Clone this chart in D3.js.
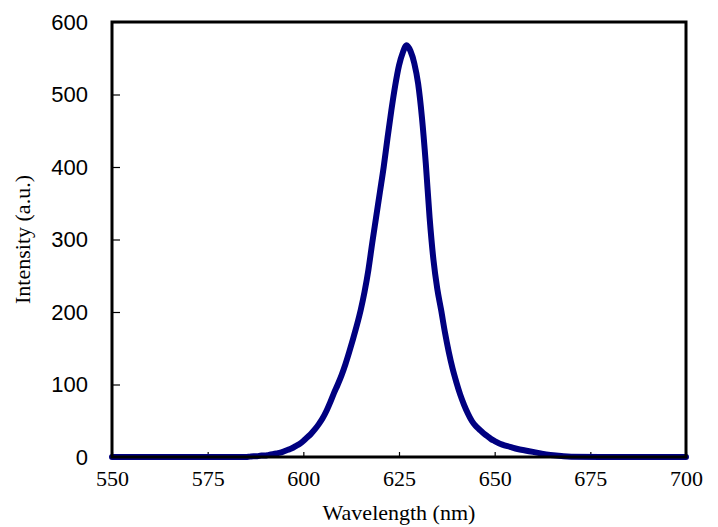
<!DOCTYPE html>
<html><head><meta charset="utf-8">
<script src="https://cdn.jsdelivr.net/npm/d3@7"></script>
<style>html,body{margin:0;padding:0;background:#fff;}</style>
</head><body>
<svg id="chart" width="718" height="527"></svg>
<script>
const wavelengths = [550,560,570,580,585,586,587,588,589,590,591,592,593,594,595,596,597,598,599,600,601,602,603,604,605,606,607,608,609,610,611,612,613,614,615,616,617,618,619,620,621,622,623,624,625,626,627,628,629,630,631,632,633,634,635,636,637,638,639,640,641,642,643,644,645,646,647,648,649,650,652,654,656,658,660,662,664,666,668,670,680,690,700];
const intensity = [0,0,0,0,0,0.5,1,1,2,2,3,4,5,6,8,10,12,15,18,22,27,32,38,45,53,63,75,88,100,113,128,145,163,182,203,228,258,295,330,365,400,440,478,512,540,558,568,560,543,515,468,405,330,272,232,203,172,145,122,103,86,72,60,50,43,38,33,29,25,22,17,14,11,9,7,5,3,2,1,0.5,0,0,0];
const xTicks = [550,575,600,625,650,675,700];
const yTicks = [0,100,200,300,400,500,600];
const xTitle = "Wavelength (nm)";
const yTitle = "Intensity (a.u.)";

const svg = d3.select("#chart");
const m = {left:112, right:32, top:22, bottom:70};
const W = 718, H = 527;
const x = d3.scaleLinear().domain([550,700]).range([m.left, W - m.right]);
const y = d3.scaleLinear().domain([0,600]).range([H - m.bottom, m.top]);

// ticks inward
const gx = svg.append("g").attr("transform", `translate(0,${y(0)})`)
  .call(d3.axisBottom(x).tickValues(xTicks).tickSize(-5).tickPadding(13).tickFormat(d3.format("d")));
gx.select(".domain").remove();
gx.selectAll("line").attr("stroke","#000").attr("stroke-width",1.2);
gx.selectAll("text").attr("font-family","'Liberation Serif', serif").attr("font-size","22px").attr("fill","#000");

const gy = svg.append("g").attr("transform", `translate(${x(550)},0)`)
  .call(d3.axisLeft(y).tickValues(yTicks).tickSize(-8).tickPadding(24).tickFormat(d3.format("d")));
gy.select(".domain").remove();
gy.selectAll("line").attr("stroke","#000").attr("stroke-width",1.2);
gy.selectAll("text").attr("font-family","'Liberation Sans', Arial, sans-serif").attr("font-size","22px").attr("fill","#000");

// curve
const line = d3.line().x((d,i)=>x(wavelengths[i])).y((d,i)=>y(intensity[i])).curve(d3.curveMonotoneX);
svg.append("path").datum(intensity).attr("d", line)
  .attr("fill","none").attr("stroke","#000080").attr("stroke-width",6)
  .attr("stroke-linejoin","round").attr("stroke-linecap","round");

// frame
svg.append("rect").attr("x", x(550)).attr("y", y(600))
  .attr("width", x(700)-x(550)).attr("height", y(0)-y(600))
  .attr("fill","none").attr("stroke","#000").attr("stroke-width",3);

svg.append("text").attr("x", (x(550)+x(700))/2).attr("y", 520)
  .attr("text-anchor","middle").attr("font-family","'Liberation Serif', serif").attr("font-size","22px").text(xTitle);
svg.append("text").attr("transform", `translate(30,${(y(0)+y(600))/2}) rotate(-90)`)
  .attr("text-anchor","middle").attr("font-family","'Liberation Serif', serif").attr("font-size","22px").text(yTitle);
</script>
</body></html>
